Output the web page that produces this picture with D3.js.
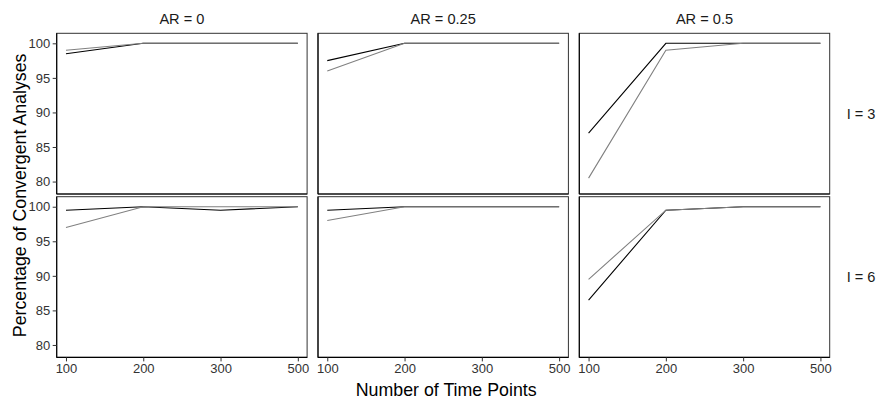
<!DOCTYPE html>
<html>
<head>
<meta charset="utf-8">
<script src="https://cdn.jsdelivr.net/npm/d3@7"></script>
<style>
  html, body { margin: 0; padding: 0; background: #fff; }
  svg { display: block; font-family: "Liberation Sans", Arial, Helvetica, sans-serif; }
</style>
</head>
<body>
<svg id="chart" width="879" height="399"></svg>
<script>
// Time-point categories along the x axis
const timePoints = ["100", "200", "300", "500"];
// Facet columns (autoregression) and rows (indicators)
const arLevels = ["0", "0.25", "0.5"];
const iLevels = ["3", "6"];
const yTicks = [80, 85, 90, 95, 100];

// Percentage of convergent analyses, one array per facet, ordered by timePoints
// Black series
const blackI3AR0 = [98.5, 100, 100, 100];
const blackI3AR025 = [97.5, 100, 100, 100];
const blackI3AR05 = [87, 100, 100, 100];
const blackI6AR0 = [99.5, 100, 99.5, 100];
const blackI6AR025 = [99.5, 100, 100, 100];
const blackI6AR05 = [86.5, 99.5, 100, 100];
// Grey series
const greyI3AR0 = [99, 100, 100, 100];
const greyI3AR025 = [96, 100, 100, 100];
const greyI3AR05 = [80.5, 99, 100, 100];
const greyI6AR0 = [97, 100, 100, 100];
const greyI6AR025 = [98, 100, 100, 100];
const greyI6AR05 = [89.5, 99.5, 100, 100];

const blackByFacet = [[blackI3AR0, blackI3AR025, blackI3AR05], [blackI6AR0, blackI6AR025, blackI6AR05]];
const greyByFacet = [[greyI3AR0, greyI3AR025, greyI3AR05], [greyI6AR0, greyI6AR025, greyI6AR05]];

const svg = d3.select("#chart");

// Facet layout
const panelLeft = 56.7, panelTop = 33.3;
const panelW = 250.4, panelH = 160.7;
const colGap = 10.9, rowGap = 2.7;

const x = d3.scalePoint().domain(timePoints).range([0, panelW]).padding(0.12);
const y = d3.scaleLinear().domain([78.2, 101.45]).range([panelH, 0]);

const line = d3.line()
  .x((d, i) => x(timePoints[i]))
  .y(d => y(d));

iLevels.forEach((iv, r) => {
  arLevels.forEach((ar, c) => {
    const px = panelLeft + c * (panelW + colGap);
    const py = panelTop + r * (panelH + rowGap);
    const g = svg.append("g").attr("transform", `translate(${px},${py})`);

    // Series lines (grey drawn last)
    g.append("path")
      .attr("d", line(blackByFacet[r][c]))
      .attr("fill", "none")
      .attr("stroke", "#000")
      .attr("stroke-width", 1.1);
    g.append("path")
      .attr("d", line(greyByFacet[r][c]))
      .attr("fill", "none")
      .attr("stroke", "#808080")
      .attr("stroke-width", 1.1);

    // Panel border
    g.append("rect")
      .attr("x", 0).attr("y", 0)
      .attr("width", panelW).attr("height", panelH)
      .attr("fill", "none")
      .attr("stroke", "#333")
      .attr("stroke-width", 1);

    // Axis lines
    g.append("line").attr("x1", 0).attr("x2", 0).attr("y1", 0).attr("y2", panelH)
      .attr("stroke", "#000").attr("stroke-width", 1.1);
    g.append("line").attr("x1", 0).attr("x2", panelW).attr("y1", panelH).attr("y2", panelH)
      .attr("stroke", "#000").attr("stroke-width", 1.1);

    if (c === 0) {
      const ya = g.append("g").call(d3.axisLeft(y).tickValues(yTicks).tickSize(4).tickPadding(2.5));
      ya.select(".domain").remove();
      ya.selectAll(".tick line").attr("stroke", "#333");
      ya.selectAll(".tick text").attr("fill", "#333").style("font-size", "13px")
        .style("font-family", "'Liberation Sans', Arial, sans-serif");
    }
    if (r === iLevels.length - 1) {
      const xa = g.append("g").attr("transform", `translate(0,${panelH})`)
        .call(d3.axisBottom(x).tickSize(4).tickPadding(2));
      xa.select(".domain").remove();
      xa.selectAll(".tick line").attr("stroke", "#333");
      xa.selectAll(".tick text").attr("fill", "#333").style("font-size", "13px")
        .style("font-family", "'Liberation Sans', Arial, sans-serif");
    }

    // Column strip labels
    if (r === 0) {
      svg.append("text")
        .attr("x", px + panelW / 2).attr("y", 23.5)
        .attr("text-anchor", "middle")
        .attr("fill", "#1a1a1a")
        .style("font-size", "14.6px")
        .text(`AR = ${ar}`);
    }
    // Row strip labels
    if (c === arLevels.length - 1) {
      svg.append("text")
        .attr("x", px + panelW + 17).attr("y", py + panelH / 2)
        .attr("dy", "0.35em")
        .attr("fill", "#1a1a1a")
        .style("font-size", "14.6px")
        .text(`I = ${iv}`);
    }
  });
});

// Axis titles
const panelsRight = panelLeft + 3 * panelW + 2 * colGap;
svg.append("text")
  .attr("x", (panelLeft + panelsRight) / 2 + 3).attr("y", 395.5)
  .attr("text-anchor", "middle")
  .attr("fill", "#000")
  .style("font-size", "17.8px")
  .text("Number of Time Points");

svg.append("text")
  .attr("transform", `translate(25.5,${panelTop + (2 * panelH + rowGap) / 2}) rotate(-90)`)
  .attr("text-anchor", "middle")
  .attr("fill", "#000")
  .style("font-size", "17.8px")
  .text("Percentage of Convergent Analyses");
</script>
</body>
</html>
